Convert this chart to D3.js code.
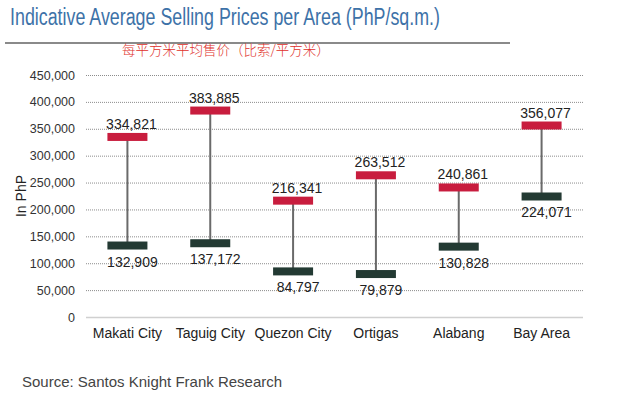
<!DOCTYPE html>
<html>
<head>
<meta charset="utf-8">
<script src="https://cdn.jsdelivr.net/npm/d3@7"></script>
<style>
	body { margin: 0; background: #fff; }
	svg { display: block; font-family: "Liberation Sans", Arial, sans-serif; }
</style>
</head>
<body>
<svg></svg>
<script>
// chart data
var areas = ["Makati City", "Taguig City", "Quezon City", "Ortigas", "Alabang", "Bay Area"];
var highPrices = [334821, 383885, 216341, 263512, 240861, 356077];
var lowPrices = [132909, 137172, 84797, 79879, 130828, 224071];
var yTicks = [0, 50000, 100000, 150000, 200000, 250000, 300000, 350000, 400000, 450000];

var W = 624, H = 397;
var margin = { top: 75, right: 41, bottom: 80, left: 86 },
	width = W - margin.left - margin.right,
	height = H - margin.top - margin.bottom;

var svg = d3.select("svg")
	.attr("width", W)
	.attr("height", H);

// title
svg.append("text")
	.attr("x", 10)
	.attr("y", 25)
	.attr("fill", "#3d72a8")
	.style("font-size", "23.5px")
	.attr("textLength", 430)
	.attr("lengthAdjust", "spacingAndGlyphs")
	.text("Indicative Average Selling Prices per Area (PhP/sq.m.)");

svg.append("line")
	.attr("x1", 5).attr("x2", 510)
	.attr("y1", 43).attr("y2", 43)
	.attr("stroke", "#8a8a8a")
	.attr("stroke-width", 2);

svg.append("text")
	.attr("x", 122)
	.attr("y", 55)
	.attr("fill", "#e0302a")
	.style("font-family", "'Noto Sans CJK SC', sans-serif")
	.style("font-size", "13.5px")
	.style("font-weight", 300)
	.text("每平方米平均售价（比索/平方米）");

var g = svg.append("g")
	.attr("transform", "translate(" + margin.left + "," + margin.top + ")");

var x = d3.scaleBand()
	.domain(areas)
	.range([0, width]);

var y = d3.scaleLinear()
	.domain([0, 450000])
	.range([height, 0]);

// grid lines
g.selectAll(".grid")
	.data(yTicks)
	.enter()
	.append("line")
	.attr("x1", 0).attr("x2", width)
	.attr("y1", function(d) { return y(d) + 0.5; })
	.attr("y2", function(d) { return y(d) + 0.5; })
	.attr("stroke", function(d) { return d === 0 ? "#d0d0d0" : "#8c8c8c"; })
	.attr("stroke-width", function(d) { return d === 0 ? 1.5 : 1; })
	.attr("stroke-dasharray", function(d) { return d === 0 ? null : "1,1"; });

// y axis
var yAxis = g.append("g")
	.call(d3.axisLeft(y).tickValues(yTicks).tickSize(0).tickPadding(11).tickFormat(d3.format(",")));
yAxis.select(".domain").remove();
yAxis.selectAll("text")
	.attr("fill", "#333")
	.style("font-size", "12.5px")
	.style("font-family", "'Liberation Sans', Arial, sans-serif");

// x axis
var xAxis = g.append("g")
	.attr("transform", "translate(0," + height + ")")
	.call(d3.axisBottom(x).tickSize(0).tickPadding(11));
xAxis.select(".domain").remove();
xAxis.selectAll("text")
	.attr("fill", "#222")
	.style("font-size", "14px")
	.style("font-family", "'Liberation Sans', Arial, sans-serif");

// y label
svg.append("text")
	.attr("transform", "translate(26," + (margin.top + y(225000)) + ") rotate(-90)")
	.style("text-anchor", "middle")
	.style("font-size", "14px")
	.attr("fill", "#222")
	.text("In PhP");

var barW = 40, barH = 8;
var cx = function(i) { return x(areas[i]) + x.bandwidth() / 2; };

// connectors
g.selectAll(".conn")
	.data(areas)
	.enter()
	.append("line")
	.attr("x1", function(d, i) { return cx(i); })
	.attr("x2", function(d, i) { return cx(i); })
	.attr("y1", function(d, i) { return y(highPrices[i]); })
	.attr("y2", function(d, i) { return y(lowPrices[i]); })
	.attr("stroke", "#6a6a6a")
	.attr("stroke-width", 2);

// high bars
g.selectAll(".hi")
	.data(highPrices)
	.enter()
	.append("rect")
	.attr("x", function(d, i) { return cx(i) - barW / 2; })
	.attr("y", function(d) { return y(d) - barH / 2; })
	.attr("width", barW)
	.attr("height", barH)
	.attr("fill", "#c81d3e");

// low bars
g.selectAll(".lo")
	.data(lowPrices)
	.enter()
	.append("rect")
	.attr("x", function(d, i) { return cx(i) - barW / 2; })
	.attr("y", function(d) { return y(d) - barH / 2; })
	.attr("width", barW)
	.attr("height", barH)
	.attr("fill", "#233a33");

// value labels
g.selectAll(".hiLabel")
	.data(highPrices)
	.enter()
	.append("text")
	.attr("x", function(d, i) { return cx(i) + 4; })
	.attr("y", function(d) { return y(d) - barH / 2 - 4; })
	.style("text-anchor", "middle")
	.style("font-size", "14px")
	.attr("fill", "#222")
	.text(d3.format(","));

g.selectAll(".loLabel")
	.data(lowPrices)
	.enter()
	.append("text")
	.attr("x", function(d, i) { return cx(i) + 5; })
	.attr("y", function(d) { return y(d) + barH / 2 + 17; })
	.style("text-anchor", "middle")
	.style("font-size", "14px")
	.attr("fill", "#222")
	.text(d3.format(","));

// source
svg.append("text")
	.attr("x", 22)
	.attr("y", 387)
	.style("font-size", "15px")
	.attr("fill", "#444")
	.text("Source: Santos Knight Frank Research");
</script>
</body>
</html>
